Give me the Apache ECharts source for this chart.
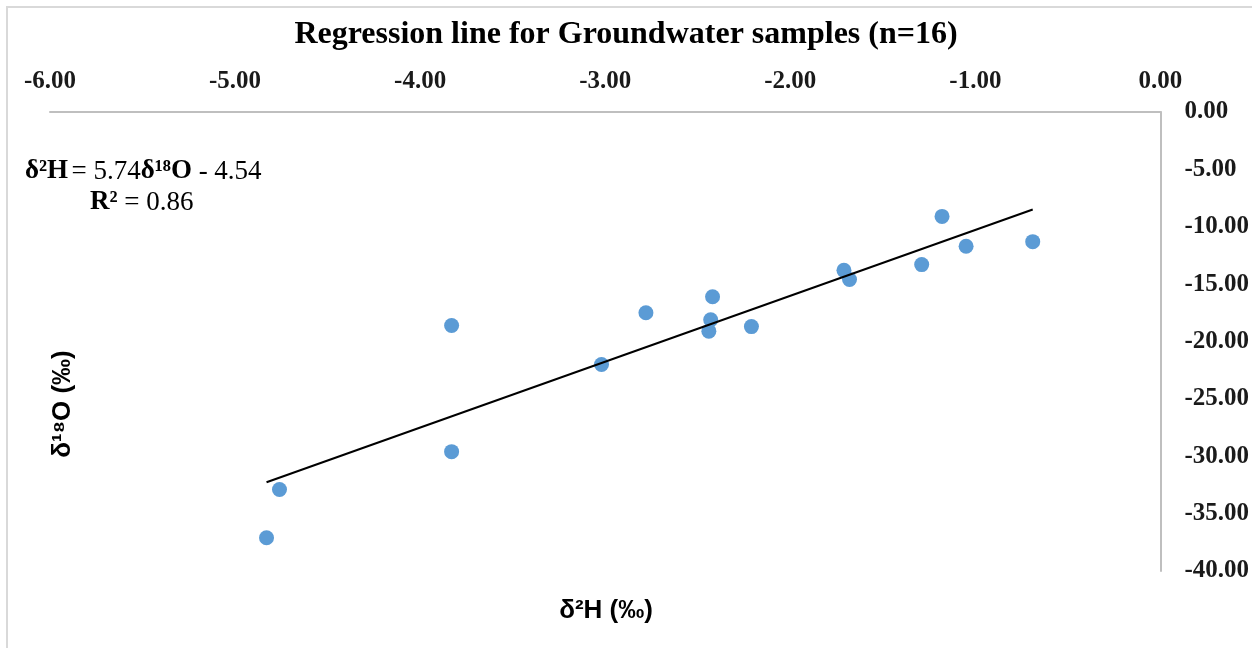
<!DOCTYPE html>
<html>
<head>
<meta charset="utf-8">
<script src="https://cdn.jsdelivr.net/npm/echarts@6/dist/echarts.min.js"></script>
<style>html,body{margin:0;padding:0;background:#fff;}#c{width:1252px;height:648px;}</style>
</head>
<body>
<div id="c"></div>
<script>
// δ2H (x) values of groundwater samples
const d2H = [-4.83, -4.76, -3.83, -3.83, -3.02, -2.78, -2.42, -2.43, -2.44, -2.21, -1.71, -1.68, -1.29, -1.18, -1.05, -0.69];
// δ18O (y) values of groundwater samples
const d18O = [-37.1, -32.9, -18.6, -29.6, -22.0, -17.5, -16.1, -18.1, -19.1, -18.7, -13.8, -14.6, -13.3, -9.1, -11.7, -11.3];
// regression: y = slope * x + intercept
const slope = 5.74;
const intercept = -4.54;
const xTicks = [-6, -5, -4, -3, -2, -1, 0];
const yTicks = [0, -5, -10, -15, -20, -25, -30, -35, -40];

const points = d2H.map((x, i) => [x, d18O[i]]);
const xMin = Math.min(...d2H), xMax = Math.max(...d2H);
const lineData = [[xMin, slope * xMin + intercept], [xMax, slope * xMax + intercept]];

const chart = echarts.init(document.getElementById('c'), null, {renderer: 'canvas'});
const serif = '"Liberation Serif", "Times New Roman", serif';
const sans = '"Liberation Sans", Arial, sans-serif';
chart.setOption({
  backgroundColor: '#fff',
  animation: false,
  title: {
    text: 'Regression line for Groundwater samples (n=16)',
    left: 'center', top: 14,
    textStyle: {fontFamily: serif, fontWeight: 'bold', fontSize: 32, color: '#000'}
  },
  grid: {left: 50, right: 91, top: 112, bottom: 77},
  xAxis: {
    type: 'value', position: 'top', min: xTicks[0], max: xTicks[xTicks.length - 1], interval: 1,
    axisLine: {show: true, onZero: false, lineStyle: {color: '#bfbfbf', width: 2}},
    axisTick: {show: false}, splitLine: {show: false},
    axisLabel: {margin: 18, fontFamily: serif, fontWeight: 'bold', fontSize: 25, color: '#1a1a1a',
      formatter: v => v.toFixed(2)}
  },
  yAxis: {
    type: 'value', position: 'right', min: yTicks[yTicks.length - 1], max: yTicks[0], interval: 5,
    axisLine: {show: true, onZero: false, lineStyle: {color: '#bfbfbf', width: 2}},
    axisTick: {show: false}, splitLine: {show: false},
    axisLabel: {margin: 24, fontFamily: serif, fontWeight: 'bold', fontSize: 25, color: '#1a1a1a',
      formatter: v => v.toFixed(2)}
  },
  graphic: [
    {type: 'rect', shape: {x: 7, y: 7, width: 1300, height: 700}, silent: true,
     style: {fill: 'none', stroke: '#d9d9d9', lineWidth: 2}, z: -10},
    {type: 'text', left: 25, top: 158, style: {
      text: '{b|δ²H} {r|= 5.74}{b|δ¹⁸O}{r| - 4.54}',
      rich: {
        b: {fontFamily: serif, fontWeight: 'bold', fontSize: 27, fill: '#000'},
        r: {fontFamily: serif, fontSize: 27, fill: '#000'}
      }}},
    {type: 'text', left: 90, top: 189, style: {
      text: '{b|R²}{r| = 0.86}',
      rich: {
        b: {fontFamily: serif, fontWeight: 'bold', fontSize: 27, fill: '#000'},
        r: {fontFamily: serif, fontSize: 27, fill: '#000'}
      }}},
    {type: 'text', x: 606, y: 611, style: {
      text: 'δ²H (‰)', fontFamily: sans, fontWeight: 'bold', fontSize: 26, fill: '#000',
      align: 'center', verticalAlign: 'middle'}},
    {type: 'text', x: 63, y: 404, rotation: Math.PI / 2, style: {
      text: 'δ¹⁸O (‰)', fontFamily: sans, fontWeight: 'bold', fontSize: 26, fill: '#000',
      align: 'center', verticalAlign: 'middle'}}
  ],
  series: [
    {type: 'scatter', data: points, symbolSize: 15, itemStyle: {color: '#5b9bd5', opacity: 1}, z: 2},
    {type: 'line', data: lineData, symbol: 'none', lineStyle: {color: '#000', width: 2}, z: 3}
  ]
});
</script>
</body>
</html>
